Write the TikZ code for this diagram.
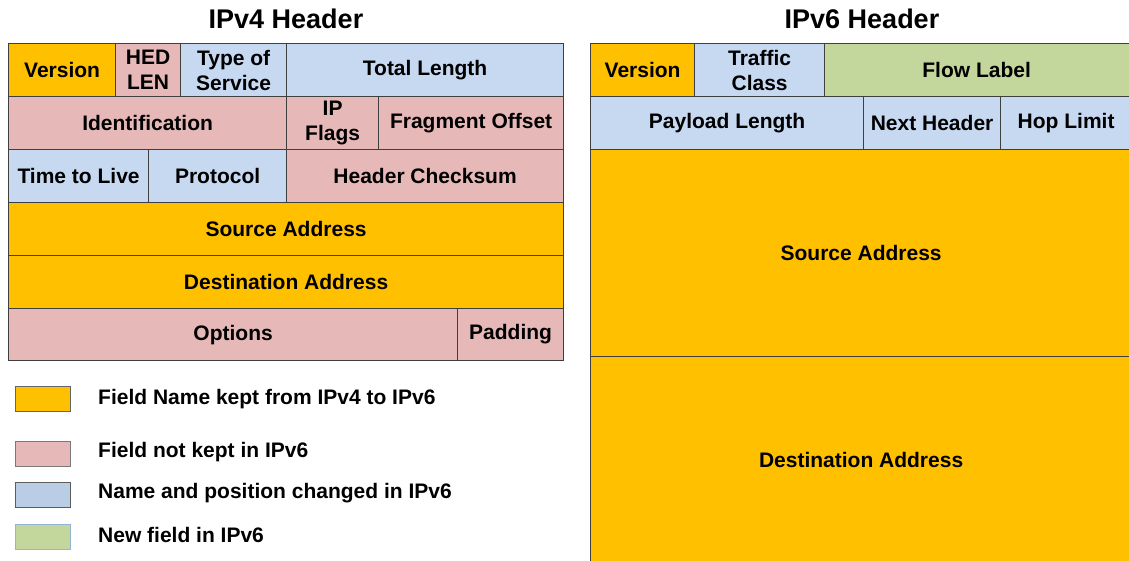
\documentclass[tikz,border=0pt]{standalone}
\usepackage{fontspec}
\setmainfont{Liberation Sans}
\definecolor{corange}{HTML}{FFC000}
\definecolor{cpink}{HTML}{E6B9B8}
\definecolor{cblue}{HTML}{C6D9F1}
\definecolor{cgreen}{HTML}{C3D69B}
\definecolor{cborder}{HTML}{3F3F3F}
\definecolor{lblue}{HTML}{B9CDE5}
\definecolor{lgborder}{HTML}{95B3D7}
\tikzset{
  cell/.style={draw=cborder, line width=1.2pt, rectangle, inner sep=0pt, anchor=north west,
    align=center, font=\fontsize{21}{25}\selectfont\bfseries},
  title/.style={font=\fontsize{27}{30}\selectfont\bfseries, inner sep=0pt},
  legbox/.style={draw=#1, line width=1.2pt, rectangle, inner sep=0pt, minimum width=55pt, minimum height=25pt},
  legtext/.style={anchor=west, inner sep=0pt, font=\fontsize{21}{25}\selectfont\bfseries},
}
\newcommand\fld[7]{\node[cell, fill=#1, minimum width=#5pt-#3pt, minimum height=#6pt-#4pt] (#2) at (#3,#4) {#7};}
\begin{document}
\begin{tikzpicture}[x=1pt,y=-1pt]
\useasboundingbox (0,0) rectangle (1129,560);
\begin{scope}
\clip (0,0) rectangle (1129,560);
% titles
\node[title] (t4) at (286,19) {IPv4 Header};
\node[title] (t6) at (862,19) {IPv6 Header};
% IPv4 header
\fld{corange}{v4ver}{8}{43}{115}{96}{Version}
\fld{cpink}{v4hl}{115}{43}{180}{96}{HED\\LEN}
\fld{cblue}{v4tos}{180}{43}{286}{96}{Type of\\Service}
\fld{cblue}{v4tl}{286}{43}{563}{96}{Total Length}
\fld{cpink}{v4id}{8}{96}{286}{149}{Identification}
\fld{cpink}{v4fl}{286}{96}{378}{149}{IP\\Flags}
\fld{cpink}{v4fo}{378}{96}{563}{149}{Fragment Offset}
\fld{cblue}{v4ttl}{8}{149}{148}{202}{Time to Live}
\fld{cblue}{v4pr}{148}{149}{286}{202}{Protocol}
\fld{cpink}{v4cs}{286}{149}{563}{202}{Header Checksum}
\fld{corange}{v4src}{8}{202}{563}{255}{Source Address}
\fld{corange}{v4dst}{8}{255}{563}{308}{Destination Address}
\fld{cpink}{v4opt}{8}{308}{457}{360}{Options}
\fld{cpink}{v4pad}{457}{308}{563}{360}{Padding}
% IPv6 header
\fld{corange}{v6ver}{590}{43}{694}{96}{Version}
\fld{cblue}{v6tc}{694}{43}{824}{96}{Traffic\\Class}
\fld{cgreen}{v6fl}{824}{43}{1131}{96}{\hspace*{-3pt}Flow Label}
\fld{cblue}{v6pl}{590}{96}{863}{149}{Payload Length}
\fld{cblue}{v6nh}{863}{96}{1000}{149}{Next Header}
\fld{cblue}{v6hl}{1000}{96}{1131}{149}{Hop Limit}
\fld{corange}{v6src}{590}{149}{1131}{356}{Source Address}
\fld{corange}{v6dst}{590}{356}{1131}{563}{Destination Address}
\end{scope}
% legend
\node[legbox=cborder!80, fill=corange] (lg1) at (43,399) {};
\node[legbox=cborder!70, fill=cpink] (lg2) at (43,454) {};
\node[legbox=cborder!85, fill=lblue] (lg3) at (43,495) {};
\node[legbox=lgborder, fill=cgreen] (lg4) at (43,537) {};
\node[legtext] (lt1) at (98,399) {Field Name kept from IPv4 to IPv6};
\node[legtext] (lt2) at (98,452) {Field not kept in IPv6};
\node[legtext] (lt3) at (98,493) {Name and position changed in IPv6};
\node[legtext] (lt4) at (98,535) {New field in IPv6};
\end{tikzpicture}
\end{document}
